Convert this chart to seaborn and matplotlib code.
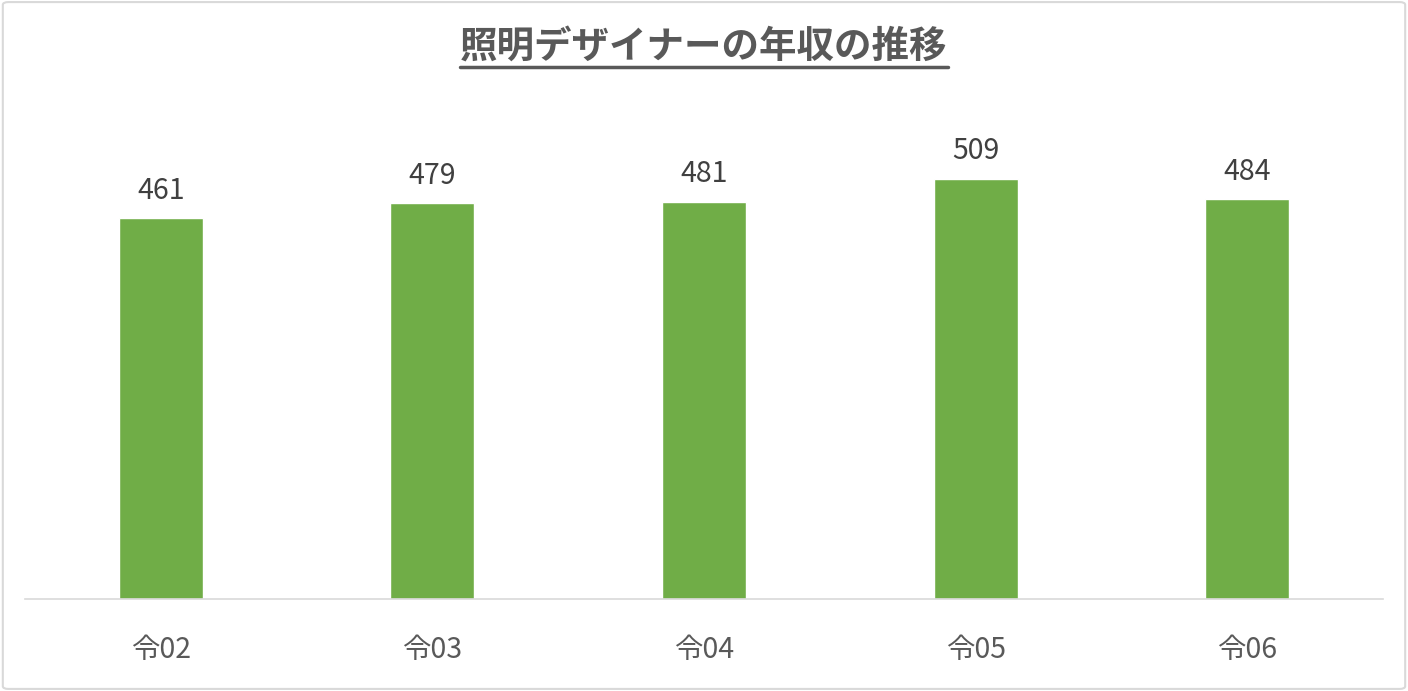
import matplotlib
matplotlib.use("Agg")
import matplotlib.pyplot as plt
from matplotlib.patches import FancyBboxPatch
from matplotlib.lines import Line2D
import seaborn as sns
import pandas as pd

years = ["令02", "令03", "令04", "令05", "令06"]
salary = [461, 479, 481, 509, 484]
title = "照明デザイナーの年収の推移"

df = pd.DataFrame({"year": years, "salary": salary})

sns.set_style("white")
plt.rcParams["font.family"] = ["Noto Sans CJK JP", "DejaVu Sans"]

fig = plt.figure(figsize=(14.08, 6.91), dpi=100)
ax = fig.add_axes([25 / 1408, 1 - 599 / 691, 1358 / 1408, 493 / 691])

sns.barplot(data=df, x="year", y="salary", color="#70AD47", width=0.31,
            saturation=1, ax=ax)

ax.set_ylim(0, 597)
ax.set_xlim(-0.5, 4.5)
ax.set_xlabel("")
ax.set_ylabel("")
ax.set_yticks([])
for s in ["top", "right", "left"]:
    ax.spines[s].set_visible(False)
ax.spines["bottom"].set_color("#D9D9D9")
ax.spines["bottom"].set_linewidth(1.2)
ax.tick_params(axis="x", length=0, pad=26, labelsize=20.5, labelcolor="#595959")

for i, v in enumerate(salary):
    ax.annotate(str(v), (i, v), xytext=(0, 9), textcoords="offset points",
                ha="center", va="bottom", fontsize=20.5, color="#404040")

t = fig.text(0.5, 1 - 47 / 691, title, ha="center", va="center",
             fontsize=27, fontweight="bold", color="#595959")

# underline for the title
fig.canvas.draw()
bb = t.get_window_extent().transformed(fig.transFigure.inverted())
fig.add_artist(Line2D([bb.x0, bb.x1], [bb.y0 - 0.001, bb.y0 - 0.001],
                      transform=fig.transFigure, color="#595959", lw=2.5))

# frame around the chart
fig.add_artist(FancyBboxPatch((0.002, 0.003), 0.996, 0.994,
                              boxstyle="round,pad=0,rounding_size=0.004",
                              transform=fig.transFigure, fill=False,
                              edgecolor="#D9D9D9", lw=1.5))

fig.savefig("out.png", dpi=100)
